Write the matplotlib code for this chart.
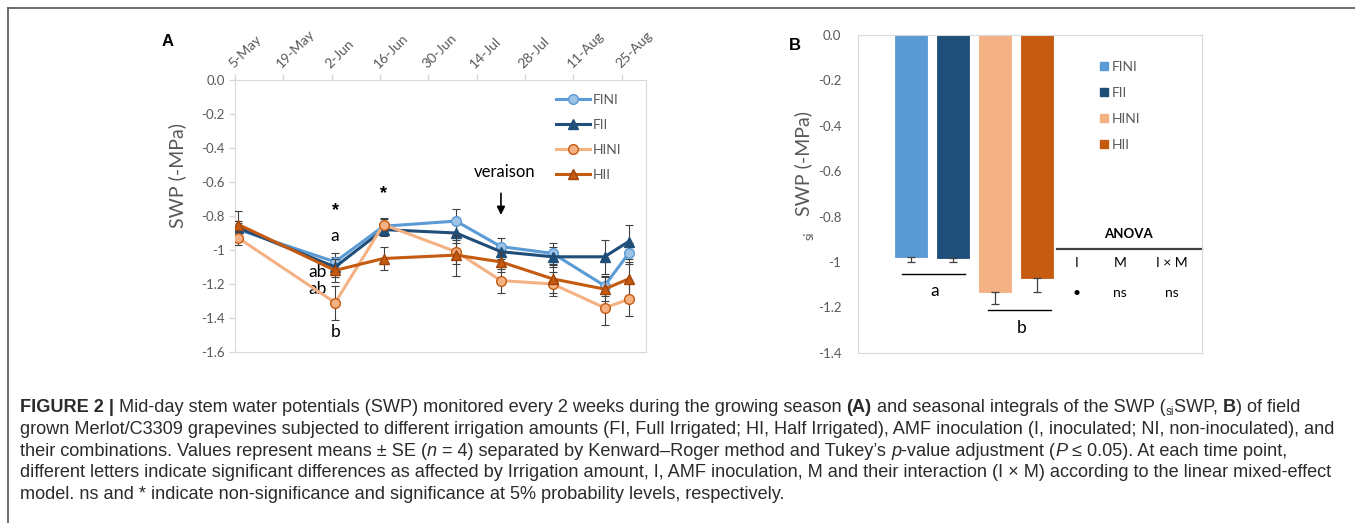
import numpy as np
import matplotlib
matplotlib.use("Agg")
import matplotlib.pyplot as plt
from matplotlib.lines import Line2D
from matplotlib.patches import Patch

# ---- data -------------------------------------------------------------
treatments = ["FINI", "FII", "HINI", "HII"]
colors = ["#5B9BD5", "#1F4E79", "#F4B183", "#C55A11"]
marker_faces = ["#9DC3E6", "#1F4E79", "#F4B183", "#C55A11"]
marker_edges = ["#5B9BD5", "#1F4E79", "#C55A11", "#A0440A"]
markers = ["o", "^", "o", "^"]

sample_dates = ["2017-05-06", "2017-06-03", "2017-06-17", "2017-07-08",
                "2017-07-21", "2017-08-05", "2017-08-20", "2017-08-27"]
swp = {
    "FINI": [-0.88, -1.07, -0.86, -0.83, -0.98, -1.02, -1.21, -1.02],
    "FII":  [-0.87, -1.10, -0.88, -0.90, -1.01, -1.04, -1.04, -0.95],
    "HINI": [-0.93, -1.31, -0.85, -1.01, -1.18, -1.20, -1.34, -1.29],
    "HII":  [-0.85, -1.12, -1.05, -1.03, -1.07, -1.17, -1.23, -1.17],
}
swp_se = {
    "FINI": [0.04, 0.05, 0.04, 0.07, 0.05, 0.06, 0.06, 0.06],
    "FII":  [0.04, 0.06, 0.04, 0.06, 0.04, 0.06, 0.10, 0.10],
    "HINI": [0.04, 0.10, 0.04, 0.07, 0.07, 0.07, 0.10, 0.10],
    "HII":  [0.08, 0.07, 0.07, 0.12, 0.06, 0.08, 0.07, 0.10],
}
date_ticks = ["2017-05-05", "2017-05-19", "2017-06-02", "2017-06-16", "2017-06-30",
              "2017-07-14", "2017-07-28", "2017-08-11", "2017-08-25"]
date_labels = ["5-May", "19-May", "2-Jun", "16-Jun", "30-Jun",
               "14-Jul", "28-Jul", "11-Aug", "25-Aug"]
a_yticks = [0.0, -0.2, -0.4, -0.6, -0.8, -1.0, -1.2, -1.4, -1.6]
a_ylabels = ["0.0", "-0.2", "-0.4", "-0.6", "-0.8", "-1", "-1.2", "-1.4", "-1.6"]

si_swp = [-0.977, -0.981, -1.131, -1.072]
si_swp_se = [0.022, 0.018, 0.055, 0.060]
b_yticks = [0.0, -0.2, -0.4, -0.6, -0.8, -1.0, -1.2, -1.4]
b_ylabels = ["0.0", "-0.2", "-0.4", "-0.6", "-0.8", "-1", "-1.2", "-1.4"]
anova_terms = ["I", "M", "I \u00d7 M"]
anova_sig = ["\u2022", "ns", "ns"]

caption_lines = [
    [("FIGURE 2 |", "b"), (" Mid-day stem water potentials (SWP) monitored every 2 weeks during the growing season ", ""),
     ("(A)", "b"), (" and seasonal integrals of the SWP (", ""), ("si", "sub"), ("SWP, ", ""), ("B", "b"),
     (") of field", "")],
    [("grown Merlot/C3309 grapevines subjected to different irrigation amounts (FI, Full Irrigated; HI, Half "
      "Irrigated), AMF inoculation (I, inoculated; NI, non-inoculated), and", "")],
    [("their combinations. Values represent means \u00b1 SE (", ""), ("n", "i"),
     (" = 4) separated by Kenward\u2013Roger method and Tukey\u2019s ", ""), ("p", "i"),
     ("-value adjustment (", ""), ("P", "i"), (" \u2264 0.05). At each time point,", "")],
    [("different letters indicate significant differences as affected by Irrigation amount, I, AMF inoculation, "
      "M and their interaction (I \u00d7 M) according to the linear mixed-effect", "")],
    [("model. ns and * indicate non-significance and significance at 5% probability levels, respectively.", "")],
]

# ---- figure -------------------------------------------------------------
W, H = 1355, 523
fig = plt.figure(figsize=(W / 100, H / 100), dpi=100)
plt.rcParams["font.family"] = ["Lato", "DejaVu Sans"]
tick_gray = "#595959"
box_gray = "#D9D9D9"
err_gray = "#404040"


def fx(px):
    return px / W


def fy(py):
    return 1 - py / H


# outer frame (top and left edges)
fig.add_artist(Line2D([fx(8), 1], [fy(8), fy(8)], color="#555555", lw=1.2))
fig.add_artist(Line2D([fx(8), fx(8)], [fy(8), 0], color="#555555", lw=1.2))

# ---- panel A ------------------------------------------------------------
axA = fig.add_axes([fx(235), fy(352), fx(646) - fx(235), fy(80) - fy(352)])
x = np.array(sample_dates, dtype="datetime64[D]")
for i, t in enumerate(treatments):
    axA.errorbar(x, swp[t], yerr=swp_se[t], fmt="none", ecolor=err_gray,
                 elinewidth=0.8, capsize=3, capthick=0.8, zorder=2 + i)
for i, t in enumerate(treatments):
    axA.plot(x, swp[t], color=colors[i], lw=2.2, marker=markers[i], ms=7,
             mfc=marker_faces[i], mec=marker_edges[i], mew=1.0, label=t, zorder=3 + i)

axA.set_xlim(np.datetime64("2017-05-05"), np.datetime64("2017-09-01"))
axA.set_ylim(-1.6, 0.0)
axA.xaxis.tick_top()
axA.set_xticks(np.array(date_ticks, dtype="datetime64[D]"))
axA.set_xticklabels(date_labels, rotation=45, ha="left", va="bottom",
                    rotation_mode="anchor", fontsize=10, color=tick_gray)
axA.set_yticks(a_yticks)
axA.set_yticklabels(a_ylabels, fontsize=9.5, color=tick_gray)
axA.tick_params(axis="both", colors=box_gray, labelcolor=tick_gray, length=4, width=1)
axA.tick_params(axis="x", pad=3)
for s in axA.spines.values():
    s.set_color(box_gray)
fig.text(fx(177), fy(176), "SWP (-MPa)", rotation=90, fontsize=14, color=tick_gray,
         ha="center", va="center")

axA.legend(loc="upper left", bbox_to_anchor=(0.765, 0.975), frameon=False,
           fontsize=10, labelcolor=tick_gray, handlelength=2.45, handletextpad=0.2,
           labelspacing=0.95, borderpad=0)

# significance letters and notes
star_font = ["Liberation Sans", "DejaVu Sans"]
d2, d3, d5 = x[1], x[2], x[4]
axA.text(d2, -0.77, "*", ha="center", va="center", fontsize=13, fontweight="bold", family=star_font)
axA.text(d2, -0.92, "a", ha="center", va="center", fontsize=12.5)
axA.text(d2 - np.timedelta64(5, "D"), -1.13, "ab", ha="center", va="center", fontsize=12.5)
axA.text(d2 - np.timedelta64(5, "D"), -1.23, "ab", ha="center", va="center", fontsize=12.5)
axA.text(d2, -1.48, "b", ha="center", va="center", fontsize=12.5)
axA.text(d3, -0.67, "*", ha="center", va="center", fontsize=13, fontweight="bold", family=star_font)
axA.text(d5 + np.timedelta64(1, "D"), -0.54, "veraison", ha="center", va="center", fontsize=12)
axA.annotate("", xy=(d5, -0.81), xytext=(d5, -0.65),
             arrowprops=dict(arrowstyle="-|>", color="black", lw=1.2, mutation_scale=12))

fig.text(fx(168), fy(42), "A", fontsize=12, fontweight="bold", ha="center", va="center",
         family=["Liberation Sans", "DejaVu Sans"])

# ---- panel B ------------------------------------------------------------
axB = fig.add_axes([fx(858), fy(352.7), fx(1202) - fx(858), fy(35) - fy(352.7)])
pos = np.arange(len(treatments))
axB.bar(pos, si_swp, width=0.76, color=colors, edgecolor=colors, linewidth=0.6, zorder=2)
axB.errorbar(pos, si_swp, yerr=[si_swp_se, [0] * len(si_swp)], fmt="none", ecolor=err_gray,
             elinewidth=0.9, capsize=3, capthick=0.9, zorder=3)
axB.set_xlim(-1.25, 6.92)
axB.set_ylim(-1.4, 0.0)
axB.set_xticks([])
axB.set_yticks(b_yticks)
axB.set_yticklabels(b_ylabels, fontsize=9.5, color=tick_gray)
axB.tick_params(axis="y", colors=box_gray, labelcolor=tick_gray, length=0, pad=12)
for s in axB.spines.values():
    s.set_color(box_gray)

axB.legend([Patch(color=c) for c in colors], treatments, loc="upper left",
           bbox_to_anchor=(0.683, 0.94), frameon=False, fontsize=10, labelcolor=tick_gray,
           handlelength=0.55, handleheight=0.55, handletextpad=0.3, labelspacing=1.0, borderpad=0)

# group letters
axB.plot([-0.2, 1.3], [-1.055, -1.055], color="black", lw=1.0)
axB.text(0.57, -1.13, "a", ha="center", va="center", fontsize=12.5)
axB.plot([1.83, 3.33], [-1.213, -1.213], color="black", lw=1.0)
axB.text(2.64, -1.292, "b", ha="center", va="center", fontsize=12.5)

# ANOVA summary
axB.text(5.17, -0.878, "ANOVA", ha="center", va="center", fontsize=9.5, fontweight="bold")
axB.plot([3.47, 6.92], [-0.944, -0.944], color="#404040", lw=1.6, clip_on=False)
for cx, term, sig in zip([3.95, 4.98, 6.21], anova_terms, anova_sig):
    axB.text(cx, -1.006, term, ha="center", va="center", fontsize=10)
    axB.text(cx, -1.138, sig, ha="center", va="center", fontsize=10)

fig.text(fx(803), fy(164), "SWP (-MPa)", rotation=90, fontsize=14, color=tick_gray,
         ha="center", va="center")
fig.text(fx(810), fy(236), "si", rotation=90, fontsize=9, color=tick_gray,
         ha="center", va="center")
fig.text(fx(795), fy(45), "B", fontsize=12, fontweight="bold", ha="center", va="center",
         family=["Liberation Sans", "DejaVu Sans"])

# ---- caption --------------------------------------------------------------
renderer = fig.canvas.get_renderer()
cap_family = ["Liberation Sans", "DejaVu Sans"]
cap_size = 13.1
cap_color = "#2b2b2b"


def run_width(text, **kw):
    # width with sentinels so leading/trailing blanks are counted
    t1 = fig.text(0, 0, "|" + text + "|", **kw)
    t2 = fig.text(0, 0, "||", **kw)
    w = t1.get_window_extent(renderer).width - t2.get_window_extent(renderer).width
    t1.remove()
    t2.remove()
    return w


for li, runs in enumerate(caption_lines):
    xpos = 20.0
    base = 412 + li * 21.8
    for text, style in runs:
        kw = dict(family=cap_family, fontsize=cap_size, color=cap_color)
        yb = base
        if style == "b":
            kw["fontweight"] = "bold"
        elif style == "i":
            kw["fontstyle"] = "italic"
        elif style == "sub":
            kw["fontsize"] = cap_size * 0.65
            yb = base + 3
        w = run_width(text, **kw)
        fig.text(fx(xpos), fy(yb), text, va="baseline", ha="left", **kw)
        xpos += w

fig.savefig("out.png", dpi=100)
